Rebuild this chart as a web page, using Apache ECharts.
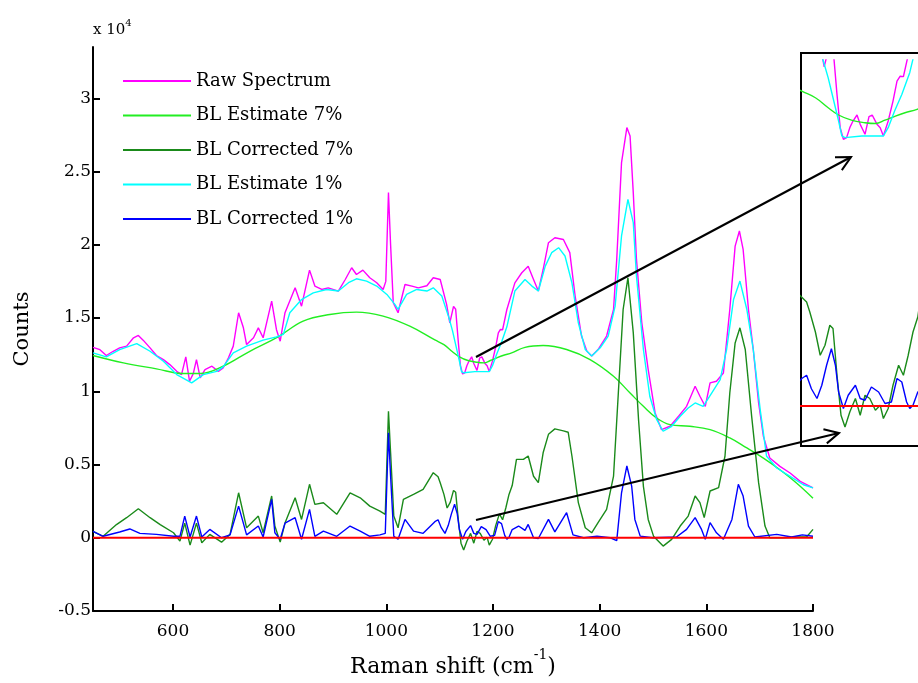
<!DOCTYPE html>
<html>
<head>
<meta charset="utf-8">
<title>Baseline correction</title>
<script src="https://cdn.jsdelivr.net/npm/echarts/dist/echarts.min.js"></script>
<style>
  html, body { margin: 0; padding: 0; background: #fff; }
  #main { width: 918px; height: 683px; }
</style>
</head>
<body>
<div id="main"></div>
<script>
// values in units of 1e4 counts, x in cm^-1
const rawShift = [450, 463, 475, 488, 500, 513, 526, 535, 544, 557, 569, 582, 594, 607, 616, 624, 631, 638, 644, 651, 660, 673, 685, 694, 704, 713, 723, 732, 738, 751, 760, 769, 785, 794, 801, 810, 829, 841, 856, 866, 879, 891, 910, 923, 935, 944, 956, 969, 982, 994, 999, 1004, 1008, 1013, 1022, 1035, 1048, 1060, 1076, 1088, 1101, 1113, 1119, 1126, 1130, 1135, 1139, 1143, 1147, 1151, 1155, 1160, 1164, 1170, 1175, 1179, 1185, 1189, 1193, 1199, 1205, 1210, 1214, 1218, 1226, 1241, 1254, 1266, 1276, 1285, 1294, 1304, 1316, 1332, 1344, 1354, 1366, 1376, 1385, 1397, 1413, 1426, 1432, 1441, 1451, 1457, 1463, 1469, 1479, 1491, 1504, 1516, 1532, 1548, 1563, 1579, 1588, 1598, 1607, 1619, 1632, 1644, 1654, 1662, 1669, 1679, 1688, 1698, 1707, 1719, 1738, 1757, 1776, 1800];
const rawCounts = [1.30, 1.284, 1.244, 1.273, 1.296, 1.308, 1.365, 1.381, 1.349, 1.296, 1.244, 1.216, 1.182, 1.136, 1.114, 1.235, 1.068, 1.12, 1.216, 1.091, 1.148, 1.171, 1.136, 1.159, 1.228, 1.308, 1.536, 1.433, 1.319, 1.365, 1.433, 1.365, 1.615, 1.42, 1.342, 1.536, 1.706, 1.581, 1.827, 1.718, 1.695, 1.706, 1.684, 1.763, 1.843, 1.797, 1.827, 1.775, 1.741, 1.695, 1.75, 2.356, 2.0, 1.604, 1.536, 1.729, 1.718, 1.706, 1.72, 1.775, 1.763, 1.593, 1.467, 1.58, 1.56, 1.334, 1.174, 1.118, 1.126, 1.174, 1.206, 1.235, 1.19, 1.142, 1.227, 1.235, 1.19, 1.174, 1.134, 1.206, 1.302, 1.398, 1.422, 1.42, 1.558, 1.74, 1.809, 1.854, 1.763, 1.684, 1.831, 2.014, 2.048, 2.036, 1.946, 1.65, 1.377, 1.274, 1.24, 1.285, 1.377, 1.558, 1.9, 2.561, 2.8, 2.743, 2.356, 1.9, 1.467, 1.148, 0.852, 0.738, 0.761, 0.829, 0.897, 1.034, 0.966, 0.897, 1.057, 1.068, 1.125, 1.558, 1.991, 2.094, 1.968, 1.558, 1.285, 0.92, 0.692, 0.544, 0.487, 0.442, 0.385, 0.34];

const est7Shift = [450, 507, 569, 619, 651, 694, 744, 797, 844, 894, 944, 994, 1044, 1091, 1108, 1124, 1137, 1153, 1170, 1183, 1195, 1208, 1220, 1235, 1260, 1294, 1338, 1382, 1426, 1457, 1482, 1507, 1532, 1569, 1607, 1644, 1676, 1707, 1738, 1769, 1800];
const est7Counts = [1.244, 1.194, 1.153, 1.121, 1.121, 1.171, 1.273, 1.371, 1.479, 1.524, 1.54, 1.513, 1.444, 1.35, 1.318, 1.27, 1.235, 1.21, 1.198, 1.194, 1.21, 1.23, 1.246, 1.262, 1.30, 1.312, 1.285, 1.216, 1.102, 0.988, 0.897, 0.817, 0.772, 0.761, 0.738, 0.681, 0.613, 0.544, 0.464, 0.374, 0.27];

const corr7Shift = [450, 469, 494, 513, 535, 557, 576, 601, 613, 622, 632, 644, 654, 669, 691, 707, 723, 738, 760, 769, 785, 791, 801, 810, 829, 841, 856, 866, 882, 907, 932, 951, 969, 988, 998, 1004, 1008, 1014, 1022, 1032, 1051, 1069, 1088, 1097, 1101, 1108, 1114, 1120, 1126, 1130, 1135, 1140, 1145, 1151, 1158, 1164, 1170, 1176, 1183, 1189, 1193, 1199, 1205, 1212, 1218, 1224, 1230, 1236, 1244, 1257, 1266, 1276, 1285, 1294, 1304, 1316, 1332, 1341, 1348, 1360, 1373, 1385, 1397, 1413, 1426, 1435, 1444, 1453, 1463, 1473, 1482, 1491, 1501, 1519, 1535, 1551, 1566, 1579, 1588, 1596, 1607, 1623, 1635, 1644, 1654, 1663, 1673, 1685, 1698, 1710, 1719, 1744, 1769, 1788, 1800];
const corr7Counts = [0.043, 0.01, 0.09, 0.137, 0.198, 0.137, 0.09, 0.034, -0.023, 0.1, -0.05, 0.1, -0.034, 0.023, -0.03, 0.023, 0.307, 0.068, 0.148, 0.034, 0.285, 0.08, -0.03, 0.1, 0.273, 0.125, 0.365, 0.228, 0.239, 0.16, 0.307, 0.273, 0.216, 0.182, 0.16, 0.863, 0.58, 0.148, 0.068, 0.262, 0.296, 0.33, 0.444, 0.416, 0.376, 0.296, 0.203, 0.243, 0.323, 0.31, 0.123, -0.037, -0.084, -0.024, 0.03, -0.037, 0.043, 0.03, -0.017, 0.003, -0.05, -0.01, 0.083, 0.163, 0.123, 0.203, 0.296, 0.356, 0.535, 0.535, 0.558, 0.42, 0.376, 0.58, 0.706, 0.743, 0.73, 0.72, 0.558, 0.24, 0.068, 0.034, 0.103, 0.194, 0.42, 0.988, 1.558, 1.775, 1.4, 0.8, 0.351, 0.125, 0.011, -0.057, -0.011, 0.08, 0.148, 0.285, 0.24, 0.137, 0.319, 0.342, 0.558, 0.988, 1.33, 1.433, 1.285, 0.829, 0.376, 0.08, 0.0, 0.0, 0.005, 0.005, 0.057];

const est1Shift = [450, 475, 500, 532, 557, 582, 607, 635, 657, 682, 694, 713, 738, 769, 794, 807, 819, 841, 863, 888, 910, 929, 944, 963, 982, 1001, 1016, 1022, 1038, 1057, 1076, 1088, 1104, 1118, 1124, 1130, 1137, 1141, 1145, 1166, 1193, 1199, 1207, 1216, 1226, 1241, 1260, 1273, 1285, 1298, 1310, 1323, 1335, 1348, 1360, 1373, 1385, 1401, 1416, 1429, 1441, 1453, 1463, 1469, 1482, 1494, 1507, 1519, 1535, 1551, 1566, 1579, 1594, 1610, 1626, 1638, 1651, 1663, 1676, 1688, 1701, 1713, 1732, 1757, 1782, 1800];
const est1Counts = [1.262, 1.235, 1.284, 1.325, 1.273, 1.205, 1.114, 1.057, 1.114, 1.136, 1.166, 1.262, 1.308, 1.349, 1.371, 1.388, 1.536, 1.626, 1.672, 1.695, 1.684, 1.741, 1.768, 1.752, 1.718, 1.661, 1.593, 1.559, 1.661, 1.695, 1.684, 1.706, 1.65, 1.494, 1.414, 1.318, 1.206, 1.134, 1.126, 1.134, 1.134, 1.174, 1.254, 1.334, 1.44, 1.684, 1.763, 1.718, 1.684, 1.854, 1.946, 1.98, 1.923, 1.74, 1.467, 1.285, 1.24, 1.297, 1.377, 1.581, 2.06, 2.31, 2.151, 1.786, 1.285, 0.966, 0.806, 0.727, 0.761, 0.829, 0.886, 0.92, 0.897, 0.988, 1.079, 1.285, 1.626, 1.752, 1.558, 1.285, 0.875, 0.556, 0.476, 0.419, 0.362, 0.34];

const corr1Shift = [450, 469, 500, 519, 538, 569, 601, 613, 622, 632, 644, 654, 669, 691, 707, 723, 738, 760, 769, 785, 791, 801, 810, 829, 841, 856, 866, 882, 907, 932, 951, 969, 988, 998, 1004, 1008, 1014, 1022, 1035, 1051, 1069, 1091, 1097, 1103, 1110, 1116, 1122, 1128, 1133, 1137, 1143, 1149, 1158, 1164, 1170, 1178, 1187, 1195, 1203, 1210, 1216, 1222, 1226, 1230, 1236, 1248, 1260, 1266, 1276, 1285, 1304, 1316, 1338, 1350, 1370, 1395, 1420, 1432, 1441, 1451, 1460, 1466, 1476, 1500, 1544, 1563, 1579, 1591, 1598, 1607, 1619, 1632, 1648, 1660, 1669, 1679, 1691, 1732, 1760, 1780, 1800];
const corr1Counts = [0.043, 0.01, 0.039, 0.06, 0.03, 0.023, 0.01, 0.01, 0.148, 0.005, 0.148, 0.005, 0.057, 0.0, 0.02, 0.216, 0.02, 0.08, 0.005, 0.262, 0.034, -0.01, 0.1, 0.137, -0.01, 0.194, 0.01, 0.045, 0.01, 0.08, 0.045, 0.01, 0.02, 0.03, 0.716, 0.42, 0.01, -0.01, 0.125, 0.045, 0.03, 0.11, 0.123, 0.069, 0.03, 0.083, 0.163, 0.229, 0.163, 0.056, -0.01, 0.043, 0.083, 0.03, 0.023, 0.076, 0.056, 0.01, 0.016, 0.11, 0.096, 0.016, -0.01, 0.003, 0.056, 0.08, 0.05, 0.091, 0.0, -0.005, 0.125, 0.04, 0.171, 0.02, 0.0, 0.01, 0.0, -0.02, 0.307, 0.49, 0.353, 0.125, 0.011, 0.0, 0.005, 0.057, 0.137, 0.057, -0.01, 0.103, 0.034, -0.01, 0.125, 0.365, 0.285, 0.08, 0.005, 0.023, 0.005, 0.02, 0.01];

const zeroShift = [450, 1800];
const zeroCounts = [0, 0];

const xTicks = [600, 800, 1000, 1200, 1400, 1600, 1800];
const yTicks = [-0.5, 0, 0.5, 1, 1.5, 2, 2.5, 3];

const names = ['Raw Spectrum', 'BL Estimate 7%', 'BL Corrected 7%', 'BL Estimate 1%', 'BL Corrected 1%'];
const colors = ['#ff00ff', '#22ee22', '#1a8a1a', '#00ffff', '#0000ff'];

const font = 'DejaVu Serif';
const pairs = (xs, ys) => xs.map((x, i) => [x, ys[i]]);

const chart = echarts.init(document.getElementById('main'), null, { renderer: 'canvas' });

function line(name, color, xs, ys, idx, extra) {
  return Object.assign({
    name: name,
    type: 'line',
    xAxisIndex: idx,
    yAxisIndex: idx,
    data: pairs(xs, ys),
    symbol: 'none',
    color: color,
    lineStyle: { color: color, width: 1.4 },
    animation: false,
    silent: true
  }, extra || {});
}

const hidden = { show: false };

const option = {
  backgroundColor: '#fff',
  animation: false,
  textStyle: { fontFamily: font },
  legend: {
    orient: 'vertical',
    left: 118,
    top: 67,
    icon: 'rect',
    itemWidth: 68,
    itemHeight: 2,
    itemGap: 16.5,
    data: names,
    selectedMode: false,
    textStyle: { fontFamily: font, fontSize: 18, color: '#000', lineHeight: 18 }
  },
  grid: [
    { left: 93, top: 47, width: 720, height: 564, outerBoundsMode: 'none' },
    { left: 801, top: 60, width: 128, height: 137, outerBoundsMode: 'none' },
    { left: 801, top: 281, width: 128, height: 165, outerBoundsMode: 'none' }
  ],
  xAxis: [
    {
      type: 'value', gridIndex: 0, min: 450, max: 1800,
      name: '{a|Raman shift (cm}{s|-1}{a|)}',
      nameLocation: 'middle', nameGap: 37,
      nameTextStyle: {
        rich: {
          a: { fontFamily: font, fontSize: 22, color: '#000', lineHeight: 30, verticalAlign: 'bottom' },
          s: { fontFamily: font, fontSize: 14, color: '#000', lineHeight: 14, verticalAlign: 'top' }
        }
      },
      axisLine: { onZero: false, lineStyle: { color: '#000', width: 2 } },
      axisTick: { inside: true, length: 7, customValues: xTicks, lineStyle: { color: '#000', width: 2 } },
      axisLabel: { customValues: xTicks, margin: 12, fontFamily: font, fontSize: 17, color: '#000', formatter: (v) => String(v) },
      splitLine: hidden
    },
    { type: 'value', gridIndex: 1, min: 1090, max: 1250, show: false, splitLine: hidden },
    { type: 'value', gridIndex: 2, min: 1090, max: 1250, show: false, splitLine: hidden }
  ],
  yAxis: [
    {
      type: 'value', gridIndex: 0, min: -0.5, max: 3.35,
      name: 'Counts', nameLocation: 'middle', nameGap: 60, nameRotate: 90,
      nameTextStyle: { fontFamily: font, fontSize: 21, color: '#000' },
      axisLine: { onZero: false, lineStyle: { color: '#000', width: 2 } },
      axisTick: { inside: true, length: 7, customValues: yTicks, lineStyle: { color: '#000', width: 2 } },
      axisLabel: { customValues: yTicks, margin: 2, fontFamily: font, fontSize: 17, color: '#000', formatter: (v) => String(v) },
      splitLine: hidden
    },
    { type: 'value', gridIndex: 1, min: 0.84, max: 1.5, show: false, splitLine: hidden },
    { type: 'value', gridIndex: 2, min: -0.16, max: 0.5, show: false, splitLine: hidden }
  ],
  series: [
    line(names[0], colors[0], rawShift, rawCounts, 0),
    line(names[1], colors[1], est7Shift, est7Counts, 0, { smooth: 0.4 }),
    line(names[2], colors[2], corr7Shift, corr7Counts, 0),
    line(names[3], colors[3], est1Shift, est1Counts, 0),
    line(names[4], colors[4], corr1Shift, corr1Counts, 0),
    line('zero', '#ff0000', zeroShift, zeroCounts, 0, { lineStyle: { color: '#ff0000', width: 2 } }),
    // inset, upper: raw and baselines
    line(names[0], colors[0], rawShift, rawCounts, 1),
    line(names[1], colors[1], est7Shift, est7Counts, 1, { smooth: 0.4 }),
    line(names[3], colors[3], est1Shift, est1Counts, 1),
    // inset, lower: corrected
    line(names[2], colors[2], corr7Shift, corr7Counts, 2),
    line(names[4], colors[4], corr1Shift, corr1Counts, 2),
    line('zero', '#ff0000', zeroShift, zeroCounts, 2, { lineStyle: { color: '#ff0000', width: 2 } })
  ]
};

function arrow(x1, y1, x2, y2) {
  const a = Math.atan2(y1 - y2, x1 - x2);
  const len = 16, spread = 0.47;
  const w1 = [x2 + len * Math.cos(a + spread), y2 + len * Math.sin(a + spread)];
  const w2 = [x2 + len * Math.cos(a - spread), y2 + len * Math.sin(a - spread)];
  return [
    { type: 'line', z: 50, shape: { x1: x1, y1: y1, x2: x2, y2: y2 }, style: { stroke: '#000', lineWidth: 2 } },
    { type: 'polyline', z: 50, shape: { points: [w1, [x2, y2], w2] }, style: { stroke: '#000', lineWidth: 2, fill: null } }
  ];
}

option.graphic = [
  { type: 'rect', z: 1, shape: { x: 801, y: 53, width: 150, height: 393 }, style: { fill: '#fff', stroke: '#000', lineWidth: 2 } },
  {
    type: 'text', left: 93, top: 18, z: 50,
    style: {
      text: '{a|x 10}{s|4}',
      rich: {
        a: { fontFamily: font, fontSize: 15, fill: '#000', lineHeight: 20, verticalAlign: 'bottom' },
        s: { fontFamily: font, fontSize: 10, fill: '#000', lineHeight: 10, verticalAlign: 'top' }
      }
    }
  }
].concat(arrow(476, 357, 851, 157), arrow(476, 520, 839, 433));

chart.setOption(option);
</script>
</body>
</html>
